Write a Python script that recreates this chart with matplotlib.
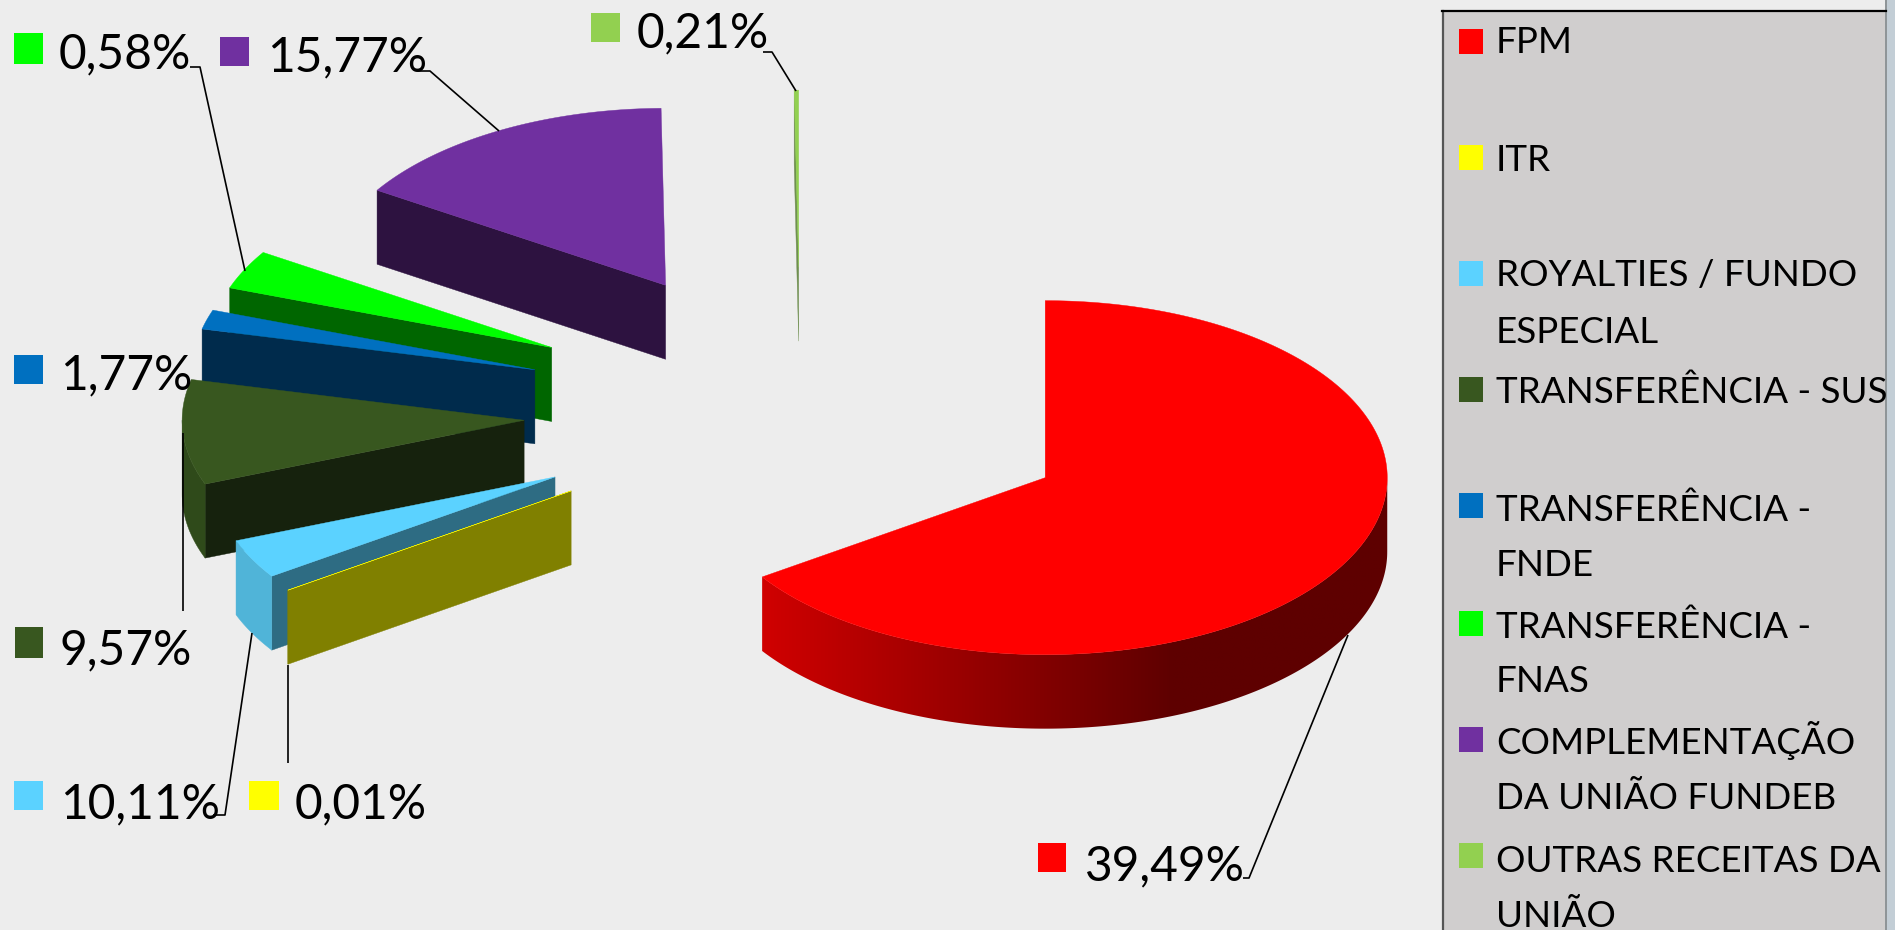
import numpy as np
import matplotlib
matplotlib.use("Agg")
import matplotlib.pyplot as plt
from matplotlib.patches import Polygon, Rectangle
from matplotlib.colors import LinearSegmentedColormap

plt.rcParams['font.family'] = ['Lato', 'DejaVu Sans']

# ---- data ----
categories = ["FPM", "ITR", "ROYALTIES / FUNDO\nESPECIAL", "TRANSFERÊNCIA - SUS",
              "TRANSFERÊNCIA -\nFNDE", "TRANSFERÊNCIA -\nFNAS",
              "COMPLEMENTAÇÃO\nDA UNIÃO FUNDEB", "OUTRAS RECEITAS DA\nUNIÃO"]
value_labels = ["39,49%", "0,01%", "10,11%", "9,57%", "1,77%", "0,58%", "15,77%", "0,21%"]
# share of the circle each slice actually occupies in the picture (percent)
slice_shares = [65.52, 0.01, 3.60, 9.57, 1.77, 3.55, 15.77, 0.21]

# ---- styles ----
top_colors = ["#ff0000", "#ffff00", "#5bd2ff", "#38571f", "#0070c0", "#00ff00", "#7030a0", "#92d050"]
cut_colors = ["#660000", "#808000", "#2e6c83", "#16220d", "#002b4c", "#006600", "#2d1240", "#6f8f50"]
rim_colors = [None, "#808000", "#50b4d8", "#2f4a1a", "#005a9a", "#00cc00", "#5a2680", "#7cb040"]

BG = "#ededed"
CX, CY, RX, RY, DEPTH, EXPLODE = 800.5, 410.5, 342, 177, 74, 0.81
red_shade = LinearSegmentedColormap.from_list("red_shade", ["#d00000", "#5e0000"])

fig = plt.figure(figsize=(18.95, 9.30), dpi=100, facecolor=BG)
ax = fig.add_axes([0, 0, 1, 1])


def rim_xy(tip, deg):
    t = np.radians(deg)
    return tip[0] + RX * np.sin(t), tip[1] - RY * np.cos(t)


def poly(pts, color, z, lw=0.3):
    p = Polygon(pts, closed=True, fc=color, ec=color, lw=lw, zorder=z)
    ax.add_patch(p)
    return p


edges = np.concatenate([[0], np.cumsum(slice_shares)]) * 3.6
for i in range(len(slice_shares) - 1, -1, -1):
    a0, a1 = edges[i], edges[i + 1]
    mid = np.radians((a0 + a1) / 2)
    tip = (CX + EXPLODE * RX * np.sin(mid), CY - EXPLODE * RY * np.cos(mid))
    z = 10 + (len(slice_shares) - i) * 3
    # cut face
    if a0 > 180:
        x0, y0 = rim_xy(tip, a0)
        poly([tip, (x0, y0), (x0, y0 + DEPTH), (tip[0], tip[1] + DEPTH)], cut_colors[i], z)
    # outer rim, only the part that faces the viewer
    lo, hi = max(a0, 90), min(a1, 270)
    if hi > lo:
        th = np.linspace(lo, hi, 200)
        up = [rim_xy(tip, a) for a in th]
        dn = [(x, y + DEPTH) for x, y in up[::-1]]
        if i == 0:  # smooth left-to-right shading of the big slice
            shape = Polygon(up + dn, closed=True, fc="none", ec="none", zorder=z)
            ax.add_patch(shape)
            xl = rim_xy(tip, hi)[0]
            xr = rim_xy(tip, lo)[0]
            grad = np.clip((np.linspace(xl, xr, 512) - xl) / 412, 0, 1)[None, :]
            im = ax.imshow(grad, cmap=red_shade, vmin=0, vmax=1, aspect="auto", interpolation="bilinear",
                           extent=(xl, xr, tip[1] + RY + DEPTH + 2, tip[1] - 2), zorder=z)
            im.set_clip_path(shape)
        else:
            poly(up + dn, rim_colors[i], z)
    # top face
    th = np.linspace(a0, a1, max(int(a1 - a0) * 2, 4))
    poly([tip] + [rim_xy(tip, a) for a in th], top_colors[i], z + 1)

ax.set_xlim(0, 1895)
ax.set_ylim(930, 0)
ax.axis("off")

# ---- leader lines (annotation layout) ----
leaders = [
    [(1243, 878), (1249, 878), (1348, 635)],
    [(288, 665), (288, 763)],
    [(213, 815), (225, 815), (252, 633)],
    [(183, 433), (183, 611)],
    [(190, 67), (200, 67), (245, 271)],
    [(418, 71), (430, 71), (499, 131)],
    [(763, 52), (772, 52), (796, 91)],
]
for pts in leaders:
    xs, ys = zip(*pts)
    ax.plot(xs, ys, color="black", lw=1.2, zorder=50, solid_capstyle="butt")

# ---- data labels: swatch (x0, y0, x1, y1), text (x, baseline) ----
label_layout = [
    ((1038, 843, 1066, 872), (1085, 880)),
    ((249, 781, 279, 810), (295, 818)),
    ((14, 781, 43, 810), (60, 818)),
    ((15, 627, 43, 658), (60, 664)),
    ((14, 355, 43, 384), (60, 389)),
    ((14, 33, 43, 64), (59, 68)),
    ((220, 37, 249, 66), (267, 71)),
    ((591, 13, 620, 42), (637, 47)),
]
for txt, col, (sw, tp) in zip(value_labels, top_colors, label_layout):
    ax.add_patch(Rectangle((sw[0], sw[1]), sw[2] - sw[0], sw[3] - sw[1], fc=col, ec="none", zorder=60))
    ax.text(tp[0], tp[1], txt, fontsize=34.5, color="black", ha="left", va="baseline", zorder=61)

# ---- legend ----
box = Rectangle((1443, 11), 443, 930, fc="#d0cece", ec="none", zorder=70)
ax.add_patch(box)
ax.add_patch(Rectangle((1886, 0), 9, 930, fc="#c3ced6", ec="none", zorder=71))
ax.add_patch(Rectangle((1885, 0), 2, 930, fc="#8f9598", ec="none", zorder=72))
ax.plot([1443, 1443], [11, 930], color="#555555", lw=1.6, zorder=73)
ax.plot([1442, 1886], [11, 11], color="black", lw=1.6, zorder=73)

legend_swatch_tops = [29, 145, 261, 377, 493, 611, 727, 843]
legend_baselines = [[53], [171], [286, 343], [403], [521, 576], [638, 692], [754, 809], [872, 927]]
for cat, col, st, bases in zip(categories, top_colors, legend_swatch_tops, legend_baselines):
    ax.add_patch(Rectangle((1459, st), 24, 25, fc=col, ec="none", zorder=74))
    for line, b in zip(cat.split("\n"), bases):
        t = ax.text(1496, b, line, fontsize=26.5, color="black", ha="left", va="baseline", zorder=75)
        t.set_clip_path(box)

fig.savefig("out.png", dpi=100, facecolor=BG)
